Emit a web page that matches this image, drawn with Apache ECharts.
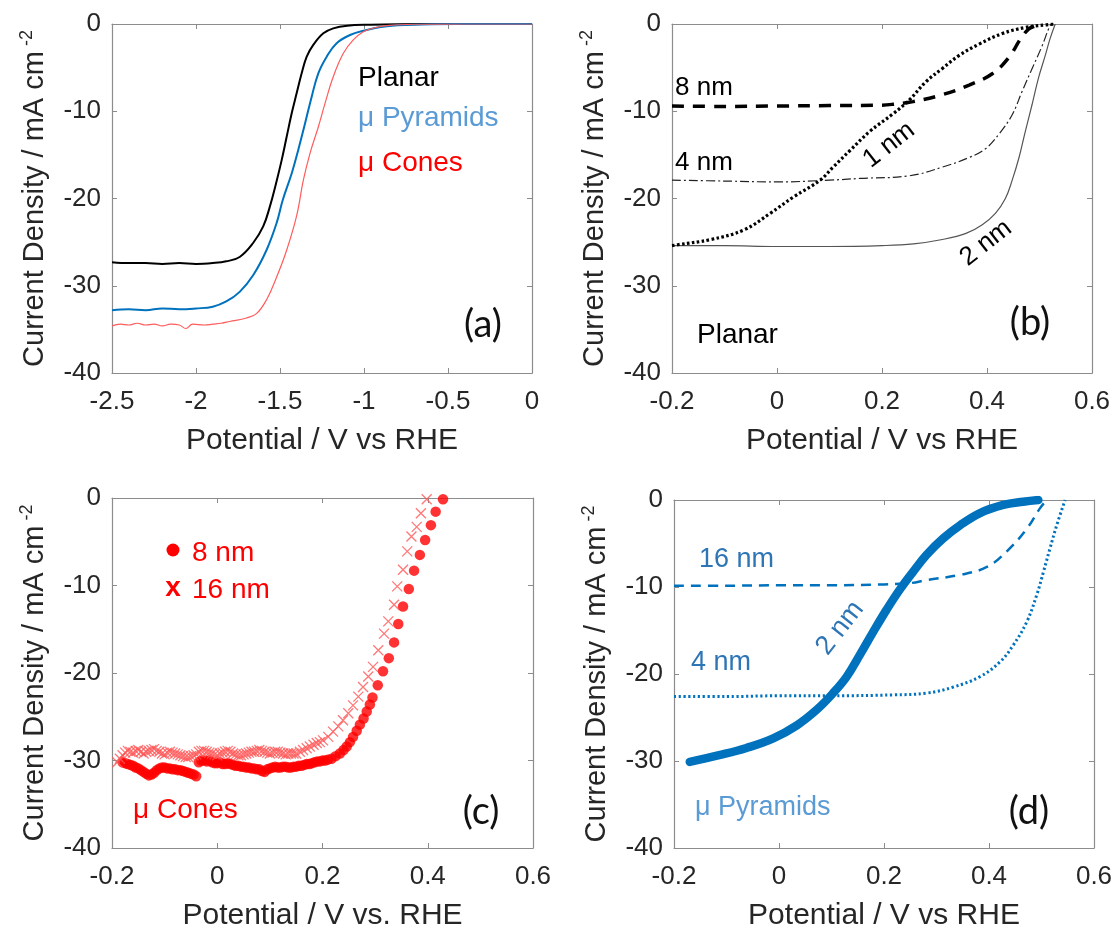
<!DOCTYPE html>
<html><head><meta charset="utf-8">
<script src="https://cdn.jsdelivr.net/npm/echarts@6/dist/echarts.min.js"></script>
<style>html,body{margin:0;padding:0;background:#fff}#c{width:1115px;height:930px}</style>
</head><body><div id="c"></div>
<script>
// ---------- tick labels ----------
const xTicksA = [-2.5, -2, -1.5, -1, -0.5, 0];
const xTicksB = [-0.2, 0, 0.2, 0.4, 0.6];
const yTicks = [-40, -30, -20, -10, 0];

// ---------- panel (a) : [V vs RHE, mA cm-2] ----------
const aPlanar = [[-2.5,-27.3],[-2.4,-27.4],[-2.3,-27.4],[-2.2,-27.5],[-2.1,-27.4],[-2.0,-27.5],[-1.9,-27.4],[-1.82,-27.2],[-1.74,-26.7],[-1.66,-25.1],[-1.6,-23.2],[-1.56,-20.9],[-1.524,-18.3],[-1.49,-15.6],[-1.46,-12.9],[-1.43,-10.2],[-1.401,-7.95],[-1.371,-5.65],[-1.341,-3.75],[-1.302,-2.4],[-1.242,-1.07],[-1.183,-0.5],[-1.1,-0.2],[-0.96,-0.08],[-0.8,-0.02],[-0.5,0],[-0.2,0],[0,0]];
const aPyramids = [[-2.5,-32.8],[-2.4,-32.7],[-2.3,-32.8],[-2.2,-32.6],[-2.1,-32.7],[-2.0,-32.6],[-1.9,-32.4],[-1.82,-31.8],[-1.74,-30.7],[-1.66,-28.8],[-1.58,-25.9],[-1.52,-22.8],[-1.484,-20.2],[-1.43,-17.1],[-1.391,-14.4],[-1.351,-11.4],[-1.311,-8.3],[-1.272,-5.65],[-1.222,-3.75],[-1.163,-2.2],[-1.083,-1.26],[-0.984,-0.69],[-0.9,-0.35],[-0.8,-0.15],[-0.6,-0.03],[-0.3,0],[0,0]];
const aCones = [[-2.5,-34.6],[-2.45,-34.4],[-2.4,-34.5],[-2.35,-34.3],[-2.3,-34.5],[-2.25,-34.4],[-2.2,-34.6],[-2.15,-34.4],[-2.1,-34.5],[-2.06,-34.9],[-2.02,-34.4],[-1.95,-34.5],[-1.9,-34.4],[-1.85,-34.3],[-1.8,-34.1],[-1.7,-33.7],[-1.64,-33.2],[-1.58,-31.6],[-1.52,-29.0],[-1.46,-25.9],[-1.40,-21.9],[-1.361,-17.9],[-1.321,-14.8],[-1.272,-11.8],[-1.232,-9.1],[-1.183,-6.04],[-1.123,-3.36],[-1.064,-1.83],[-1.004,-0.88],[-0.93,-0.4],[-0.85,-0.15],[-0.7,-0.03],[-0.4,0],[0,0]];

// ---------- panel (b) : Planar ----------
const bNm8 = [[-0.2,-9.4],[-0.1,-9.45],[0,-9.4],[0.1,-9.35],[0.2,-9.3],[0.221,-9.2],[0.259,-8.9],[0.315,-8.1],[0.366,-7.0],[0.41,-5.7],[0.442,-3.8],[0.464,-1.7],[0.479,-0.6],[0.492,-0.2],[0.5,0]];
const bNm1 = [[-0.2,-25.4],[-0.189,-25.3],[-0.126,-24.7],[-0.063,-23.6],[-0.013,-21.7],[0.032,-19.8],[0.082,-17.9],[0.107,-16.4],[0.139,-14.5],[0.177,-12.3],[0.221,-10.3],[0.252,-8.7],[0.284,-6.6],[0.315,-5.1],[0.347,-3.6],[0.385,-2.3],[0.429,-1.1],[0.473,-0.4],[0.511,-0.1],[0.53,0]];
const bNm4 = [[-0.2,-17.9],[-0.1,-18.0],[0,-18.1],[0.1,-17.9],[0.158,-17.7],[0.252,-17.4],[0.315,-16.4],[0.366,-15.3],[0.397,-14.3],[0.423,-12.6],[0.448,-10.4],[0.467,-7.7],[0.486,-5.1],[0.505,-2.5],[0.517,-0.6],[0.522,0]];
const bNm2 = [[-0.2,-25.4],[-0.1,-25.4],[0,-25.5],[0.1,-25.5],[0.2,-25.4],[0.26,-25.2],[0.315,-24.7],[0.36,-24.0],[0.391,-23.0],[0.416,-21.7],[0.435,-20.0],[0.448,-17.9],[0.461,-15.3],[0.473,-12.3],[0.486,-9.2],[0.498,-6.2],[0.511,-3.6],[0.52,-1.7],[0.53,0]];

// ---------- panel (c) : μ Cones ----------
const cNm8 = [[-0.18,-30.2],[-0.175,-30.3],[-0.17,-30.4],[-0.165,-30.5],[-0.16,-30.6],[-0.155,-30.8],[-0.15,-30.9],[-0.145,-31.1],[-0.14,-31.3],[-0.135,-31.5],[-0.13,-31.7],[-0.125,-31.6],[-0.12,-31.4],[-0.115,-31.1],[-0.11,-30.9],[-0.105,-30.8],[-0.1,-30.8],[-0.095,-30.9],[-0.09,-30.9],[-0.085,-31.0],[-0.08,-31.0],[-0.075,-31.1],[-0.07,-31.1],[-0.065,-31.2],[-0.06,-31.3],[-0.055,-31.4],[-0.05,-31.5],[-0.045,-31.6],[-0.04,-31.8],[-0.035,-30.2],[-0.03,-30.0],[-0.025,-30.0],[-0.02,-30.1],[-0.015,-30.0],[-0.01,-30.2],[-0.005,-30.3],[0,-30.3],[0.005,-30.2],[0.01,-30.4],[0.015,-30.4],[0.02,-30.3],[0.025,-30.4],[0.03,-30.5],[0.035,-30.6],[0.04,-30.6],[0.045,-30.7],[0.05,-30.7],[0.055,-30.8],[0.06,-30.8],[0.065,-30.9],[0.07,-30.9],[0.075,-31.0],[0.08,-31.0],[0.085,-31.2],[0.09,-31.3],[0.095,-31.0],[0.1,-30.9],[0.105,-30.8],[0.11,-30.7],[0.115,-30.8],[0.12,-30.8],[0.125,-30.7],[0.13,-30.7],[0.135,-30.8],[0.14,-30.8],[0.145,-30.7],[0.15,-30.7],[0.155,-30.6],[0.16,-30.6],[0.165,-30.5],[0.17,-30.4],[0.175,-30.4],[0.18,-30.3],[0.185,-30.2],[0.19,-30.1],[0.195,-30.1],[0.2,-30.0],[0.205,-30.0],[0.21,-29.9],[0.217,-29.8],[0.225,-29.5],[0.233,-29.2],[0.24,-28.8],[0.246,-28.4],[0.252,-27.9],[0.258,-27.3],[0.265,-26.6],[0.271,-25.9],[0.278,-25.2],[0.284,-24.4],[0.29,-23.6],[0.295,-22.8],[0.305,-21.4],[0.315,-19.8],[0.326,-18.3],[0.336,-16.5],[0.344,-14.4],[0.353,-12.4],[0.364,-10.4],[0.374,-8.3],[0.385,-6.5],[0.395,-4.8],[0.406,-3.1],[0.415,-1.56],[0.429,-0.15]];
const cNm16 = [[-0.19,-30.2],[-0.185,-29.8],[-0.18,-29.4],[-0.175,-29.1],[-0.17,-28.9],[-0.165,-29.0],[-0.16,-29.1],[-0.155,-28.9],[-0.15,-28.8],[-0.145,-29.0],[-0.14,-29.2],[-0.135,-29.0],[-0.13,-28.9],[-0.125,-28.8],[-0.12,-28.7],[-0.115,-28.9],[-0.11,-29.0],[-0.105,-29.2],[-0.1,-29.3],[-0.095,-29.1],[-0.09,-29.0],[-0.085,-29.1],[-0.08,-29.2],[-0.075,-29.3],[-0.07,-29.4],[-0.065,-29.5],[-0.06,-29.6],[-0.055,-29.6],[-0.05,-29.5],[-0.045,-29.4],[-0.04,-29.3],[-0.035,-29.0],[-0.03,-28.9],[-0.025,-28.9],[-0.02,-29.0],[-0.015,-29.1],[-0.01,-29.2],[-0.005,-29.3],[0,-29.4],[0.005,-29.2],[0.01,-29.1],[0.015,-29.0],[0.02,-28.9],[0.025,-29.0],[0.03,-29.2],[0.035,-29.3],[0.04,-29.4],[0.045,-29.4],[0.05,-29.3],[0.055,-29.2],[0.06,-29.1],[0.065,-29.0],[0.07,-29.0],[0.075,-28.9],[0.08,-28.8],[0.085,-28.9],[0.09,-29.0],[0.095,-29.1],[0.1,-29.2],[0.105,-29.1],[0.11,-29.0],[0.115,-29.0],[0.12,-29.1],[0.125,-29.2],[0.13,-29.3],[0.135,-29.2],[0.14,-29.2],[0.145,-29.2],[0.15,-29.2],[0.157,-29.0],[0.163,-28.8],[0.17,-28.6],[0.176,-28.4],[0.183,-28.2],[0.189,-28.0],[0.195,-27.9],[0.201,-27.7],[0.211,-27.3],[0.22,-26.7],[0.23,-26.1],[0.239,-25.4],[0.249,-24.6],[0.258,-23.7],[0.268,-22.7],[0.277,-21.6],[0.287,-20.4],[0.296,-19.3],[0.306,-17.4],[0.317,-15.5],[0.325,-14.1],[0.336,-12.2],[0.342,-10.1],[0.353,-8.2],[0.361,-6.1],[0.369,-4.4],[0.379,-3.3],[0.387,-1.75],[0.398,-0.15]];

// ---------- panel (d) : μ Pyramids ----------
const dNm2 = [[-0.17,-30.1],[-0.112,-29.3],[-0.062,-28.5],[-0.011,-27.4],[0.034,-25.9],[0.072,-24.1],[0.103,-22.2],[0.129,-20.3],[0.154,-17.8],[0.18,-15.1],[0.205,-12.6],[0.23,-10.3],[0.256,-8.2],[0.281,-6.3],[0.313,-4.4],[0.345,-2.9],[0.383,-1.5],[0.427,-0.57],[0.465,-0.2],[0.494,0]];
const dNm16 = [[-0.2,-9.85],[-0.1,-9.85],[0,-9.8],[0.1,-9.8],[0.2,-9.7],[0.25,-9.55],[0.281,-9.2],[0.345,-8.6],[0.396,-7.7],[0.434,-5.9],[0.472,-3.3],[0.497,-0.96],[0.51,0]];
const dNm4 = [[-0.2,-22.6],[-0.1,-22.6],[0,-22.5],[0.1,-22.5],[0.218,-22.4],[0.281,-22.2],[0.332,-21.5],[0.383,-20.3],[0.421,-18.6],[0.446,-16.7],[0.472,-14.0],[0.491,-10.9],[0.504,-8.2],[0.516,-5.6],[0.529,-2.9],[0.545,0]];

// ---------- styling ----------
const FONT = '"Liberation Sans", Arial, sans-serif';
const PFONT = 'Lato, "Open Sans", sans-serif';
const AX = '#8c8c8c';
const TXT = '#262626';
const BLUE = '#0072BD';
const LBLUE = '#5B9BD5';
const RED = '#FF0000';

const gridPos = [
  {left:112, top:24, width:420, height:349},
  {left:672, top:24, width:420, height:349},
  {left:112, top:498, width:421, height:350},
  {left:674, top:500, width:420, height:348}
];
const xNames = ['Potential / V vs RHE','Potential / V vs RHE','Potential / V vs. RHE','Potential / V vs RHE'];
const xTickSets = [xTicksA, xTicksB, xTicksB, xTicksB];

const lineAx = {show:true, onZero:false, lineStyle:{color:AX, width:1.2}};
const tickAx = {show:true, inside:true, length:5, lineStyle:{color:AX, width:1}};

const xAxis = [], yAxis = [];
gridPos.forEach((g, i) => {
  const t = xTickSets[i];
  const xr = {type:'value', gridIndex:i, min:t[0], max:t[t.length-1], interval:t[1]-t[0], splitLine:{show:false}, axisLine:lineAx, axisTick:tickAx};
  const yr = {type:'value', gridIndex:i, min:yTicks[0], max:yTicks[yTicks.length-1], interval:yTicks[1]-yTicks[0], splitLine:{show:false}, axisLine:lineAx, axisTick:tickAx};
  xAxis.push(Object.assign({}, xr, {position:'bottom',
    axisLabel:{margin:16, color:TXT, fontSize:26, fontFamily:FONT, showMinLabel:true, showMaxLabel:true},
    name:xNames[i], nameLocation:'middle', nameGap:53,
    nameTextStyle:{color:TXT, fontSize:30, fontFamily:FONT}}));
  xAxis.push(Object.assign({}, xr, {position:'top', axisLabel:{show:false}}));
  yAxis.push(Object.assign({}, yr, {position:'left',
    axisLabel:{margin:11, color:TXT, fontSize:26, fontFamily:FONT},
    name:'{t|Current Density / mA cm}{s|-2}', nameLocation:'middle', nameGap:61, nameRotate:90,
    nameTextStyle:{rich:{
      t:{color:TXT, fontSize:29, fontFamily:FONT, lineHeight:33},
      s:{color:TXT, fontSize:18, fontFamily:FONT, verticalAlign:'top', lineHeight:33, padding:[0,0,0,5]}
    }}}));
  yAxis.push(Object.assign({}, yr, {position:'right', axisLabel:{show:false}}));
});

function L(gi, name, data, ls, z) {
  return {type:'line', name, xAxisIndex:2*gi, yAxisIndex:2*gi, data, symbol:'none', showSymbol:false,
    smooth:0.4, lineStyle:ls, z:z||2, silent:true};
}

const series = [
  L(0,'Planar', aPlanar, {color:'#000', width:2}),
  L(0,'μ Pyramids', aPyramids, {color:BLUE, width:2}),
  L(0,'μ Cones', aCones, {color:'#FF5C5C', width:1.2}),

  L(1,'2 nm', bNm2, {color:'#555', width:1.2}),
  L(1,'4 nm', bNm4, {color:'#222', width:1.2, type:[9,3,2,3]}),
  L(1,'8 nm', bNm8, {color:'#000', width:3.5, type:[12,9]}),
  L(1,'1 nm', bNm1, {color:'#000', width:3.2, type:[2.6,2.4]}),

  {type:'scatter', name:'8 nm', xAxisIndex:4, yAxisIndex:4, data:cNm8, symbol:'circle', symbolSize:10.5,
    itemStyle:{color:RED}, silent:true, z:2},
  {type:'scatter', name:'16 nm', xAxisIndex:4, yAxisIndex:4, data:cNm16, symbol:'path://M0,0L10,10M10,0L0,10', symbolSize:10,
    itemStyle:{color:'rgba(0,0,0,0)', borderColor:'#FF5555', borderWidth:1.3}, silent:true, z:3},

  L(3,'4 nm', dNm4, {color:BLUE, width:3, type:[2.2,2.6]}),
  L(3,'16 nm', dNm16, {color:BLUE, width:2.5, type:[10,7]}),
  Object.assign(L(3,'2 nm', dNm2, {color:BLUE, width:8.5, cap:'round', join:'round'}), {z:4})
];

function T(text, x, y, o) {
  o = o || {};
  return {type:'text', x, y, rotation:(o.rot||0)*Math.PI/180, z:100, silent:true,
    style:{text, fill:o.color||'#000', fontSize:o.size||28, fontFamily:o.family||FONT,
      fontWeight:o.weight||'normal', align:o.align||'left', verticalAlign:'middle'}};
}

const graphic = [
  T('Planar', 358, 78, {color:'#000'}),
  T('μ Pyramids', 358, 118, {color:LBLUE}),
  T('μ Cones', 358, 163, {color:RED}),
  T('(a)', 483, 325, {family:PFONT, size:38, align:'center', color:'#111'}),

  T('8 nm', 675, 88, {size:26}),
  T('4 nm', 675, 163, {size:26}),
  T('1 nm', 889, 145, {size:26, align:'center', rot:38}),
  T('2 nm', 986, 243, {size:26, align:'center', rot:38}),
  T('Planar', 697, 335, {size:28}),
  T('(b)', 1030, 323, {family:PFONT, size:38, align:'center', color:'#111'}),

  {type:'circle', shape:{cx:173, cy:550, r:6.5}, style:{fill:RED}, z:100, silent:true},
  T('8 nm', 192, 553, {color:RED}),
  T('x', 173, 588, {color:RED, weight:'bold', align:'center'}),
  T('16 nm', 192, 590, {color:RED}),
  T('μ Cones', 133, 810, {color:RED}),
  T('(c)', 481, 812, {family:PFONT, size:38, align:'center', color:'#111'}),

  T('16 nm', 699, 560, {color:'#2E75B6', size:27}),
  T('4 nm', 691, 663, {color:'#2E75B6', size:27}),
  T('2 nm', 840, 628, {color:'#2E75B6', size:27, align:'center', rot:52}),
  T('μ Pyramids', 695, 808, {color:LBLUE, size:27}),
  T('(d)', 1029, 812, {family:PFONT, size:38, align:'center', color:'#111'})
];

const chart = echarts.init(document.getElementById('c'), null, {renderer:'canvas'});
chart.setOption({
  animation:false,
  backgroundColor:'#fff',
  grid: gridPos.map(g => Object.assign({containLabel:false, outerBoundsMode:'none'}, g)),
  xAxis, yAxis, series, graphic
});
</script>
</body></html>
